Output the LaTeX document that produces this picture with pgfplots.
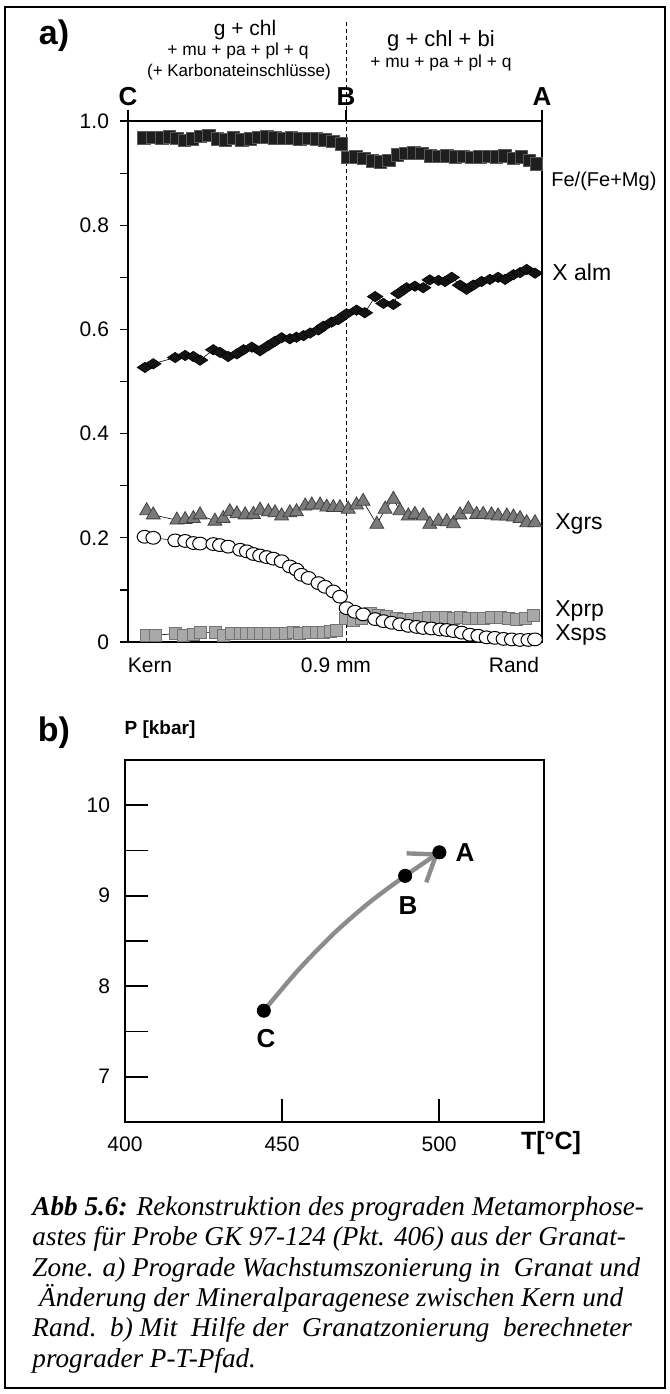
\documentclass[border=0pt]{standalone}
\usepackage{fontspec}
\setmainfont{Liberation Sans}
\newfontfamily\capfont{Liberation Serif}
\usepackage{pgfplots}
\pgfplotsset{compat=1.18}
\usetikzlibrary{arrows.meta}

\definecolor{feblk}{HTML}{1E1E1E}
\definecolor{grsgray}{HTML}{7A7A7A}
\definecolor{prpgray}{HTML}{A8A8A8}
\definecolor{pathgray}{HTML}{8C8C8C}

\newcommand{\fs}[1]{\fontsize{#1}{#1}\selectfont}

\begin{document}
\begin{tikzpicture}
\useasboundingbox (0,0) rectangle (335pt,-697pt);
\draw[line width=1pt] (2.5pt,-3.5pt) rectangle (332.5pt,-694pt);

% ---- panel a: zoning profile
\begin{axis}[
  at={(64pt,-321pt)}, anchor=south west,
  scale only axis, width=207pt, height=260.5pt,
  xmin=0, xmax=100, ymin=0, ymax=1,
  axis line style={line width=0.7pt},
  xtick=\empty,
  ytick={0,0.2,0.4,0.6,0.8,1.0},
  yticklabels={0,0.2,0.4,0.6,0.8,1.0},
  minor ytick={0.1,0.3,0.5,0.7,0.9},
  ytick pos=left,
  tick align=outside, major tick length=4pt, minor tick length=4pt,
  ytick style={line width=0.6pt, black},
  yticklabel style={font=\fs{10.5}, xshift=-2pt},
  clip=false,
]
% Fe/(Fe+Mg)
\addplot[black, line width=0.3pt, mark=square*, mark size=3.1pt,
  mark options={fill=feblk, draw=black!65, line width=0.3pt}] coordinates {
  (3.8,0.968)(5.8,0.969)(8.2,0.968)(10,0.970)(11.8,0.967)(13.6,0.963)(15.5,0.966)
  (17.5,0.971)(19.5,0.973)(21.5,0.966)(23.5,0.964)(25.5,0.968)(27.5,0.964)
  (29.5,0.966)(31.5,0.969)(33.5,0.970)(35.5,0.968)(37.5,0.967)(39.5,0.968)
  (41.5,0.966)(43.5,0.967)(45.5,0.966)(47.5,0.964)(49.5,0.961)(51.5,0.956)
  (53,0.930)(55,0.931)(57,0.929)(59,0.924)(61,0.922)(63,0.925)(65,0.935)
  (67,0.938)(69,0.939)(71,0.938)(73,0.933)(75,0.932)(77,0.933)(79,0.931)
  (81,0.932)(83,0.930)(85,0.931)(87,0.932)(89,0.931)(91,0.933)(93,0.929)
  (95,0.931)(97,0.925)(98.6,0.918)
};
% X alm
\addplot[black, line width=0.3pt, mark=diamond*, mark size=2.6pt,
  mark options={xscale=2, fill=black!92, draw=black, line width=0.3pt}] coordinates {
  (4.1,0.527)(6.1,0.534)(11.4,0.546)(13.8,0.550)(15.8,0.548)(17.4,0.541)
  (20.6,0.561)(22.2,0.556)(24.2,0.548)(26.3,0.553)(27.9,0.561)(29.9,0.566)
  (31.9,0.559)(33.9,0.569)(35.5,0.577)(37.1,0.584)(39.1,0.582)(40.7,0.585)
  (42.4,0.588)(44.0,0.593)(46.0,0.599)(47.2,0.606)(49.2,0.614)(50.8,0.619)
  (52.8,0.630)(55.2,0.637)(57.2,0.632)(59.7,0.663)(61.7,0.650)(64.1,0.648)
  (65.3,0.669)(67.3,0.680)(69.3,0.683)(71.3,0.680)(72.9,0.695)(75.0,0.694)
  (76.6,0.692)(78.2,0.700)(80.2,0.685)(81.8,0.677)(83.4,0.685)(85.4,0.692)
  (87.4,0.696)(89.4,0.700)(91.1,0.696)(93.1,0.705)(94.7,0.709)(96.3,0.715)
  (98.3,0.708)
};
% Xgrs
\addplot[black, line width=0.3pt, mark=triangle*, mark size=4pt,
  mark options={fill=grsgray, draw=black!75, line width=0.4pt}] coordinates {
  (4.5,0.252)(6.1,0.244)(11.8,0.234)(13.8,0.235)(15.8,0.237)(17.4,0.244)
  (21.0,0.232)(23.0,0.237)(24.6,0.250)(26.3,0.246)(28.3,0.244)(30.3,0.245)
  (31.9,0.253)(33.9,0.250)(35.5,0.248)(37.1,0.242)(39.1,0.248)(40.7,0.250)
  (42.8,0.261)(44.4,0.263)(46.4,0.263)(48.0,0.259)(49.6,0.258)(51.2,0.258)
  (53.2,0.255)(55.2,0.263)(56.8,0.270)(60.1,0.226)(62.1,0.255)(64.1,0.274)
  (65.7,0.252)(67.7,0.242)(69.3,0.245)(71.3,0.242)(72.9,0.226)(75.0,0.232)
  (77.0,0.231)(78.6,0.227)(80.2,0.244)(82.2,0.255)(84.2,0.245)(85.8,0.245)
  (87.8,0.244)(89.4,0.242)(91.5,0.242)(93.1,0.240)(94.7,0.237)(96.3,0.229)
  (98.3,0.229)
};
% Xprp
\addplot[black, line width=0.3pt, mark=square*, mark size=3pt,
  mark options={fill=prpgray, draw=black!55, line width=0.4pt}] coordinates {
  (4.5,0.013)(6.5,0.013)(11.4,0.016)(13.4,0.012)(15.8,0.014)(17.4,0.018)
  (21.0,0.018)(23.0,0.013)(25.0,0.016)(27.1,0.016)(28.7,0.016)(30.3,0.016)
  (31.9,0.016)(33.9,0.016)(35.9,0.016)(37.9,0.016)(39.9,0.018)(41.5,0.016)
  (43.6,0.018)(45.6,0.018)(47.2,0.018)(48.8,0.021)(50.4,0.023)(52.4,0.045)
  (54.4,0.042)(56.4,0.045)(58.5,0.055)(60.5,0.052)(62.5,0.050)(64.9,0.045)
  (66.5,0.043)(68.5,0.043)(70.5,0.045)(72.5,0.047)(74.6,0.047)(76.6,0.047)
  (78.6,0.045)(80.2,0.047)(82.2,0.045)(84.2,0.045)(85.8,0.045)(87.8,0.047)
  (89.9,0.047)(91.9,0.045)(93.9,0.043)(95.9,0.045)(97.9,0.052)
};
% Xsps
\addplot[black, line width=0.3pt, mark=*, mark size=3.2pt,
  mark options={xscale=1.15, fill=white, draw=black, line width=0.5pt}] coordinates {
  (4.0,0.202)(6.1,0.200)(11.4,0.195)(13.8,0.194)(15.8,0.190)(17.4,0.189)
  (20.6,0.188)(22.2,0.186)(24.2,0.183)(27.1,0.177)(28.7,0.174)(30.3,0.169)
  (31.9,0.166)(33.5,0.163)(35.1,0.160)(37.1,0.155)(39.1,0.145)(40.7,0.139)
  (41.9,0.129)(43.6,0.123)(46.0,0.113)(47.6,0.106)(49.6,0.097)(51.2,0.087)
  (52.8,0.065)(54.8,0.058)(56.8,0.053)(59.7,0.044)(61.7,0.040)(63.7,0.037)
  (65.7,0.034)(67.7,0.031)(69.7,0.029)(71.3,0.027)(73.3,0.026)(75.4,0.024)
  (77.0,0.023)(78.6,0.021)(80.6,0.018)(82.6,0.014)(84.6,0.012)(86.6,0.009)
  (88.6,0.008)(90.7,0.006)(92.7,0.005)(94.7,0.004)(96.7,0.004)(98.3,0.005)
};
\draw[line width=0.7pt] (axis cs:0,1) -- ++(0,5.5pt);
\draw[line width=0.7pt] (axis cs:52.7,1) -- ++(0,5.5pt);
\draw[line width=0.7pt] (axis cs:100,1) -- ++(0,5.5pt);
\draw[dash pattern=on 2pt off 1.5pt, line width=0.5pt]
  (axis cs:52.7,0) -- (axis cs:52.7,1.194);
\end{axis}

% ---- panel b: P-T path
\begin{axis}[
  at={(62.5pt,-561pt)}, anchor=south west,
  scale only axis, width=209.5pt, height=181pt,
  xmin=400, xmax=533.4, ymin=6.5, ymax=10.5,
  xtick={400,450,500}, ytick={7,8,9,10}, minor ytick={7.5,8.5,9.5},
  xtick pos=bottom, ytick pos=left,
  tick align=inside, major tick length=11.5pt, minor tick length=11.5pt,
  tick style={line width=0.9pt, black},
  axis line style={line width=0.9pt},
  xticklabel style={font=\fs{10.5}, yshift=-4pt},
  yticklabel style={font=\fs{10.5}, xshift=-4pt},
  /pgf/number format/assume math mode=true,
  clip=false,
]
\addplot[pathgray, line width=2.2pt, smooth,
  -{Straight Barb[length=12pt, width=17.5pt, line width=2.2pt]}] coordinates {
  (444.2,7.73)(455.45,8.19)(466.7,8.59)(477.95,8.93)(489.2,9.22)(500.1,9.48)
};
\addplot[only marks, mark=*, mark size=3.3pt, black] coordinates {
  (444.2,7.73)(489.2,9.22)(500.1,9.48)
};
\end{axis}

\begin{scope}[x=0.5pt, y=-0.5pt]
\node[font=\bfseries\fs{17}] at (54,36) {a)};
\node[font=\fs{10.5}] at (245,30) {g + chl};
\node[font=\fs{8.7}] at (238,51) {+ mu + pa + pl + q};
\node[font=\fs{8.5}] at (239,72) {(+ Karbonateinschlüsse)};
\node[font=\fs{11}] at (441,41) {g + chl + bi};
\node[font=\fs{8.7}] at (441,63) {+ mu + pa + pl + q};
\node[font=\bfseries\fs{13}] at (128,97) {C};
\node[font=\bfseries\fs{13}] at (346,97) {B};
\node[font=\bfseries\fs{13}] at (542,97) {A};
\node[font=\fs{10.5}] at (150,665) {Kern};
\node[font=\fs{10.5}] at (336,665) {0.9 mm};
\node[font=\fs{10.5}] at (514,665) {Rand};
\node[font=\fs{10}, anchor=west, inner sep=0] at (551,181) {Fe/(Fe+Mg)};
\node[font=\fs{11.5}, anchor=west, inner sep=0] at (552,272) {X alm};
\node[font=\fs{11.5}, anchor=west, inner sep=0] at (555,524) {Xgrs};
\node[font=\fs{11.5}, anchor=west, inner sep=0] at (555,611) {Xprp};
\node[font=\fs{11.5}, anchor=west, inner sep=0] at (555,635) {Xsps};
\node[font=\bfseries\fs{17}] at (54,733) {b)};
\node[font=\bfseries\fs{9.5}] at (160,730) {P [kbar]};
\node[font=\bfseries\fs{12.5}] at (551,1143) {T[°C]};
\node[font=\bfseries\fs{13}] at (465,853) {A};
\node[font=\bfseries\fs{13}] at (408,906) {B};
\node[font=\bfseries\fs{13}] at (266,1039) {C};
\node[anchor=north west, align=left, inner sep=0,
  font=\capfont\itshape\fontsize{13.6}{15.2}\selectfont] at (32,1196) {%
  \textbf{Abb 5.6:} Rekonstruktion des prograden Metamorphose-\\
  astes für Probe GK 97-124 (Pkt. 406) aus der Granat-\\
  Zone. a) Prograde Wachstumszonierung in\ \ Granat und\\
  \ Änderung der Mineralparagenese zwischen Kern und\\
  Rand.\ \ b) Mit\ \ Hilfe der\ \ Granatzonierung\ \ berechneter\\
  prograder P-T-Pfad.};
\end{scope}
\end{tikzpicture}
\end{document}
